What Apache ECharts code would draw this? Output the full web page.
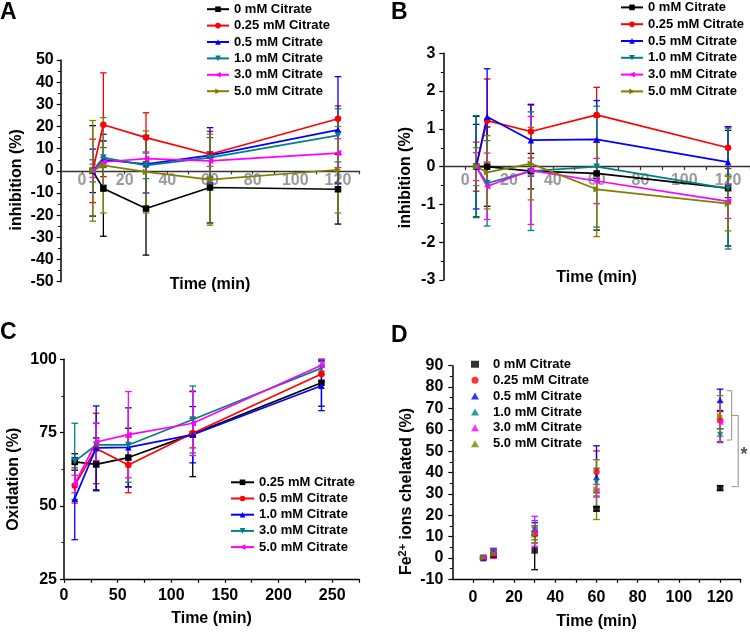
<!DOCTYPE html>
<html>
<head>
<meta charset="utf-8">
<script src="https://cdn.jsdelivr.net/npm/echarts@6/dist/echarts.min.js"></script>
<style>
html,body{margin:0;padding:0;background:#fff;}
.p{position:absolute;left:0;top:0;width:750px;height:632px;}
</style>
</head>
<body>
<div id="cA" class="p"></div>
<div id="cB" class="p"></div>
<div id="cC" class="p"></div>
<div id="cD" class="p"></div>
<script>
// ---------------- DATA ----------------
const timesAB = [5, 10, 30, 60, 120];
const timesC = [10, 30, 60, 120, 240];
const timesD = [5, 10, 30, 60, 120];

const namesABD = ['0 mM Citrate', '0.25 mM Citrate', '0.5 mM Citrate', '1.0 mM Citrate', '3.0 mM Citrate', '5.0 mM Citrate'];
const namesC = ['0.25 mM Citrate', '0.5 mM Citrate', '1.0 mM Citrate', '3.0 mM Citrate', '5.0 mM Citrate'];

// Panel A: inhibition (%) mean and SD, rows follow namesABD
const meanA = [
  [0, -8, -17, -7.5, -8.3],
  [0, 20.8, 15, 7.5, 23.5],
  [0, 5, 3, 7, 18.5],
  [0, 6, 2.5, 6, 16],
  [0, 4, 5.5, 4.5, 8],
  [0, 2.5, -0.5, -4, 0.5]
];
const sdA = [
  [20.4, 21.5, 21, 16, 15.7],
  [14.3, 23.4, 11.2, 10.3, 5.8],
  [9.8, 11.5, 13, 12.5, 24],
  [5, 4.5, 6, 9, 12],
  [3, 2, 2.5, 2.5, 6.5],
  [22.7, 21.5, 18.5, 20.5, 19.5]
];

// Panel B: inhibition (%) mean and SD
const meanB = [
  [0, 0, -0.12, -0.18, -0.57],
  [0, 1.22, 0.93, 1.37, 0.5],
  [0, 1.32, 0.7, 0.72, 0.12],
  [0, -0.44, -0.12, 0, -0.58],
  [0, -0.52, -0.1, -0.38, -0.92],
  [0, -0.15, 0.08, -0.6, -0.98]
];
const sdB = [
  [1.33, 1.05, 0.47, 1.5, 1.53],
  [0.65, 1.1, 0.7, 0.73, 0.55],
  [1.12, 1.27, 0.95, 1.03, 0.94],
  [1.35, 1.13, 1.57, 1.6, 1.6],
  [0.37, 0.88, 1.43, 0.6, 0.45],
  [0.5, 0.97, 0.96, 1.25, 0.72]
];

// Panel C: oxidation (%) mean and SD, rows follow namesC
const meanC = [
  [65, 64.2, 66.5, 74.5, 92],
  [57, 69.6, 64, 74.8, 95],
  [52.5, 69.8, 70, 74.3, 91],
  [65.2, 70.8, 70.8, 79.5, 97],
  [57.5, 71.8, 74.3, 78.2, 98]
];
const sdC = [
  [2.8, 9, 10, 14.5, 8],
  [6, 12, 9.5, 5, 2.5],
  [14, 14.3, 13.5, 9.6, 8.5],
  [13, 7.5, 12.7, 11.4, 2.2],
  [3, 6.3, 14.7, 11, 2]
];

// Panel D: Fe2+ ions chelated (%) mean and SD
const meanD = [
  [0, 1.5, 3.5, 23, 32.7],
  [0, 2, 11, 40.3, 64.5],
  [0, 3, 13.5, 38, 74],
  [0, 2.5, 13, 35.5, 57.5],
  [0.3, 2, 12.5, 31.5, 63.5],
  [0, 2, 11, 32, 66.5]
];
const sdD = [
  [0.5, 1, 9, 1, 1],
  [0.5, 1.5, 4, 9.8, 4],
  [0.5, 1.5, 3, 14.5, 5],
  [0.5, 1.5, 4.5, 6.5, 3],
  [0.5, 2.2, 7, 3, 9.5],
  [0.5, 1.5, 4, 14, 9.5]
];

// Significance bracket in panel D (data space segments x1,y1,x2,y2) and star
const bracketD = [
  [123.2, 78.3, 125.6, 78.3],
  [125.6, 78.3, 125.6, 55.2],
  [123.2, 55.2, 125.6, 55.2],
  [125.6, 66.7, 128.8, 66.7],
  [128.8, 66.7, 128.8, 33.4],
  [125.6, 33.4, 128.8, 33.4]
];
const starD = [[131.6, 48]];

// axis tick / label values
const ticksAB = [0, 10, 20, 30, 40, 50, 60, 70, 80, 90, 100, 110, 120, 130];
const labelsAB = [0, 20, 40, 60, 80, 100, 120];
const ticksC = [0, 25, 50, 75, 100, 125, 150, 175, 200, 225, 250, 275];
const labelsC = [0, 50, 100, 150, 200, 250];

// ---------------- STYLE ----------------
const FONT = "'Liberation Sans', Arial, Helvetica, sans-serif";
const colors6 = ['#000000', '#ff0000', '#0000ff', '#008080', '#ff00ff', '#808000'];
const symbols6 = ['rect', 'circle', 'triangle', 'triangle', 'triangle', 'triangle'];
const rot6 = [0, 0, 0, 180, 90, -90];
const colorsC = ['#000000', '#ff0000', '#0000ff', '#008080', '#ff00ff'];
const symbolsC = ['rect', 'circle', 'triangle', 'triangle', 'triangle'];
const rotC = [0, 0, 0, 180, 90];

function errBars(xs, m, e, color) {
  return {
    type: 'custom', silent: true, z: 2, clip: false,
    encode: { x: 0, y: [1, 2] },
    data: xs.map((x, i) => [x, m[i] - e[i], m[i] + e[i]]),
    renderItem: function (params, api) {
      const x = api.value(0);
      const p1 = api.coord([x, api.value(1)]);
      const p2 = api.coord([x, api.value(2)]);
      const h = 3.3;
      const st = { stroke: color, lineWidth: 1.3 };
      return {
        type: 'group', children: [
          { type: 'line', shape: { x1: p1[0], y1: p1[1], x2: p2[0], y2: p2[1] }, style: st },
          { type: 'line', shape: { x1: p1[0] - h, y1: p1[1], x2: p1[0] + h, y2: p1[1] }, style: st },
          { type: 'line', shape: { x1: p2[0] - h, y1: p2[1], x2: p2[0] + h, y2: p2[1] }, style: st }
        ]
      };
    }
  };
}

function buildSeries(xs, means, sds, names, colors, symbols, rots, kind) {
  const out = [];
  means.forEach((m, k) => {
    out.push(errBars(xs, m, sds[k], colors[k]));
  });
  means.forEach((m, k) => {
    out.push({
      type: kind, name: names[k],
      data: xs.map((x, i) => [x, m[i]]),
      symbol: symbols[k], symbolRotate: rots[k], symbolSize: 6.5,
      itemStyle: { color: colors[k] },
      lineStyle: { color: colors[k], width: 1.7 },
      z: 3, clip: false, silent: true
    });
  });
  return out;
}

const boldText = { fontSize: 16, fontWeight: 'bold', color: '#000', fontFamily: FONT };

function yAxisDef(min, max, interval, name, gap, labelMargin, shift, extraName) {
  return Object.assign({
    type: 'value', min: min, max: max, interval: interval,
    axisLine: { show: true, onZero: false, lineStyle: { color: '#000', width: 1.5 } },
    axisTick: { show: true, length: 4, lineStyle: { color: '#000', width: 1.2 } },
    minorTick: { show: true, splitNumber: 2, length: 2.5, lineStyle: { color: '#000', width: 1 } },
    axisLabel: Object.assign({ margin: labelMargin }, boldText),
    splitLine: { show: false }, minorSplitLine: { show: false },
    name: name, nameLocation: 'middle', nameRotate: 90, nameGap: gap,
    nameTextStyle: Object.assign({ padding: [0, shift, 0, 0] }, boldText)
  }, extraName || {});
}

// offset < 0 lifts the axis from the grid bottom up to the zero line
function xAxisDef(min, max, ticks, labels, offset, lineColor, labelColor, labelMargin, gap) {
  return {
    type: 'value', min: min, max: max, offset: offset,
    axisLine: { show: true, onZero: false, lineStyle: { color: lineColor, width: 1.4 } },
    axisTick: { show: true, customValues: ticks, length: 3.5, lineStyle: { color: lineColor, width: 1.2 } },
    axisLabel: Object.assign({}, boldText, { customValues: labels, color: labelColor, margin: labelMargin }),
    splitLine: { show: false },
    name: 'Time (min)', nameLocation: 'middle', nameGap: gap,
    nameTextStyle: boldText
  };
}

function legendDef(names, left, top, lh, iw, ih, textPad) {
  return {
    orient: 'vertical', left: left, top: top, itemWidth: iw, itemHeight: ih, itemGap: 0, padding: 0,
    data: names, selectedMode: false,
    textStyle: { fontSize: 13, fontWeight: 'bold', color: '#000', fontFamily: FONT, lineHeight: lh, padding: [0, 0, 0, textPad || 0] }
  };
}

function letter(t, x, y) {
  return { type: 'text', left: x, top: y, style: { text: t, font: 'bold 23px ' + FONT, fill: '#000' } };
}

// ---------------- PANEL A ----------------
const optA = {
  animation: false, textStyle: { fontFamily: FONT },
  grid: { left: 60.7, top: 60, width: 298.6, height: 221.7 },
  xAxis: xAxisDef(-10, 130, ticksAB, labelsAB, -110.85, '#333', '#9a9a9a', 2, 106),
  yAxis: yAxisDef(-50, 50, 10, 'inhibition (%)', 36, 7, 18),
  legend: legendDef(namesABD, 206, 1, 16.4, 22, 7),
  graphic: [letter('A', 0, 1)],
  series: buildSeries(timesAB, meanA, sdA, namesABD, colors6, symbols6, rot6, 'line')
};

// ---------------- PANEL B ----------------
const optB = {
  animation: false, textStyle: { fontFamily: FONT },
  grid: { left: 443.3, top: 53.3, width: 308.4, height: 226.7 },
  xAxis: xAxisDef(-10, 130, ticksAB, labelsAB, -113.35, '#333', '#9a9a9a', 6, 102.6),
  yAxis: yAxisDef(-3, 3, 1, 'inhibition (%)', 30, 8, 22),
  legend: legendDef(namesABD, 620, -1, 16.8, 22, 7),
  graphic: [letter('B', 391, 1)],
  series: buildSeries(timesAB, meanB, sdB, namesABD, colors6, symbols6, rot6, 'line')
};

// ---------------- PANEL C ----------------
const optC = {
  animation: false, textStyle: { fontFamily: FONT },
  grid: { left: 64, top: 359.3, width: 295, height: 220 },
  xAxis: xAxisDef(0, 275, ticksC, labelsC, 0, '#000', '#000', 8, 31),
  yAxis: yAxisDef(25, 100, 25, 'Oxidation (%)', 42, 7, 20),
  legend: legendDef(namesC, 230, 474.2, 16.2, 23, 7),
  graphic: [letter('C', 0, 321)],
  series: buildSeries(timesC, meanC, sdC, namesC, colorsC, symbolsC, rotC, 'line')
};

// ---------------- PANEL D ----------------
const seriesD = buildSeries(timesD, meanD, sdD, namesABD, colors6, symbols6, rot6, 'scatter');
seriesD.push({
  type: 'custom', silent: true, z: 1, clip: false,
  encode: { x: [0, 2], y: [1, 3] },
  data: bracketD,
  renderItem: function (params, api) {
    const a = api.coord([api.value(0), api.value(1)]);
    const b = api.coord([api.value(2), api.value(3)]);
    return { type: 'line', shape: { x1: a[0], y1: a[1], x2: b[0], y2: b[1] }, style: { stroke: '#9a9a9a', lineWidth: 1.1 } };
  }
});
seriesD.push({
  type: 'custom', silent: true, z: 1, clip: false,
  encode: { x: 0, y: 1 },
  data: starD,
  renderItem: function (params, api) {
    const p = api.coord([api.value(0), api.value(1)]);
    return { type: 'text', x: p[0], y: p[1], style: { text: '*', font: 'bold 18px ' + FONT, fill: '#555', align: 'center', verticalAlign: 'middle' } };
  }
});

const optD = {
  animation: false, textStyle: { fontFamily: FONT },
  grid: { left: 452.3, top: 365.7, width: 288.4, height: 213.6 },
  xAxis: xAxisDef(-10, 130, ticksAB, labelsAB, 0, '#000', '#000', 10, 34.4),
  yAxis: yAxisDef(-10, 90, 10, '{n|Fe}{s|2+}{n| ions chelated (%)}', 32, 9, 38, {
    nameTextStyle: Object.assign({}, boldText, {
      padding: [0, 38, 0, 0],
      rich: {
        n: { fontSize: 16, fontWeight: 'bold', color: '#000', fontFamily: FONT, lineHeight: 20 },
        s: { fontSize: 11, fontWeight: 'bold', color: '#000', fontFamily: FONT, lineHeight: 20, padding: [0, 0, 8, 0] }
      }
    })
  }),
  legend: legendDef(namesABD, 471, 356.3, 15.9, 8, 7, 9),
  graphic: [letter('D', 391, 324)],
  series: seriesD
};

echarts.init(document.getElementById('cA'), null, { renderer: 'canvas' }).setOption(optA);
echarts.init(document.getElementById('cB'), null, { renderer: 'canvas' }).setOption(optB);
echarts.init(document.getElementById('cC'), null, { renderer: 'canvas' }).setOption(optC);
echarts.init(document.getElementById('cD'), null, { renderer: 'canvas' }).setOption(optD);
</script>
</body>
</html>
